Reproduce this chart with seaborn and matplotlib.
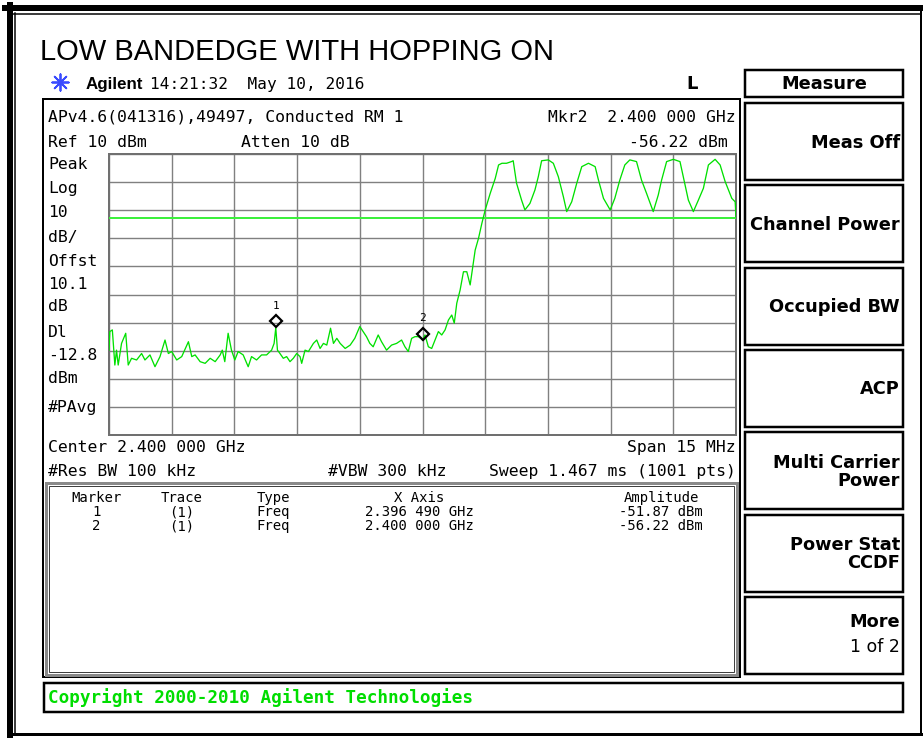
import numpy as np
import pandas as pd
import matplotlib
matplotlib.use("Agg")
import matplotlib.pyplot as plt
import matplotlib.transforms as mtransforms
from matplotlib.patches import Rectangle
import seaborn as sns

# trace, MHz / dBm
floor_freq = [2392.50, 2392.52, 2392.58, 2392.64, 2392.68, 2392.72, 2392.80, 2392.90, 2392.96, 2393.04,
              2393.16, 2393.28, 2393.36, 2393.48, 2393.60, 2393.72, 2393.84, 2393.92, 2394.00, 2394.12,
              2394.24, 2394.40, 2394.48, 2394.56, 2394.68, 2394.80, 2394.92, 2395.04, 2395.16, 2395.21,
              2395.27, 2395.35, 2395.43, 2395.51, 2395.59, 2395.71, 2395.83, 2395.91, 2396.03, 2396.15,
              2396.27, 2396.39, 2396.45, 2396.49, 2396.53, 2396.59, 2396.67, 2396.75, 2396.83, 2396.91,
              2396.99, 2397.07, 2397.11, 2397.19, 2397.27, 2397.39, 2397.47, 2397.55, 2397.63, 2397.71,
              2397.80, 2397.87, 2397.95, 2398.03, 2398.15, 2398.27, 2398.38, 2398.50, 2398.58, 2398.66,
              2398.74, 2398.82, 2398.94, 2399.02, 2399.14, 2399.26, 2399.38, 2399.50, 2399.58, 2399.66,
              2399.74, 2399.82]
floor_dbm = [-59.8, -53.2, -52.6, -65.1, -59.8, -65.1, -57.4, -53.8, -65.1, -62.7,
             -63.3, -61.0, -63.3, -61.5, -65.7, -62.1, -56.2, -61.0, -60.3, -63.3,
             -62.1, -56.8, -62.1, -61.5, -63.9, -64.5, -62.7, -63.9, -61.5, -59.8,
             -63.9, -53.8, -59.8, -63.3, -60.3, -61.5, -65.7, -62.1, -63.3, -61.5,
             -61.5, -59.8, -57.4, -51.87, -59.8, -61.0, -62.7, -62.1, -63.9, -62.7,
             -61.0, -62.1, -64.5, -59.8, -60.3, -57.4, -56.2, -59.2, -57.4, -58.0,
             -52.0, -57.4, -55.6, -57.4, -59.2, -58.0, -55.6, -51.4, -53.2, -55.0,
             -57.4, -58.6, -54.4, -56.8, -59.8, -58.0, -57.4, -56.2, -58.6, -60.3,
             -55.6, -55.0]

skirt_freq = [2399.90, 2399.96, 2400.00, 2400.06, 2400.14, 2400.22, 2400.30, 2400.38, 2400.46, 2400.54,
              2400.62, 2400.70, 2400.76, 2400.82, 2400.90, 2400.98, 2401.06, 2401.14, 2401.18, 2401.26,
              2401.34, 2401.42, 2401.50, 2401.62, 2401.74, 2401.82, 2401.90, 2402.01, 2402.13]
skirt_dbm = [-55.0, -55.6, -56.22, -54.4, -58.6, -59.2, -56.2, -53.2, -54.4, -52.6,
             -49.1, -47.3, -50.2, -43.1, -38.4, -31.9, -31.9, -36.6, -32.5, -24.2,
             -20.0, -14.7, -9.9, -4.0, 1.3, 6.1, 6.7, 6.7, 7.3]

hop_freq = [2402.17, 2402.25, 2402.37, 2402.45, 2402.57, 2402.69, 2402.77, 2402.85, 2403.01, 2403.13,
            2403.25, 2403.37, 2403.45, 2403.57, 2403.69, 2403.81, 2403.97, 2404.13, 2404.21, 2404.33,
            2404.49, 2404.60, 2404.72, 2404.84, 2404.96, 2405.12, 2405.24, 2405.36, 2405.52, 2405.64,
            2405.72, 2405.84, 2406.00, 2406.16, 2406.28, 2406.36, 2406.48, 2406.60, 2406.72, 2406.84,
            2407.00, 2407.12, 2407.24, 2407.40, 2407.48, 2407.50]
hop_dbm = [7.6, -0.4, -6.4, -9.9, -7.6, -2.8, 1.9, 7.6, 7.9, 6.7,
           1.9, -5.2, -10.5, -7.0, -0.4, 5.5, 6.7, 5.5, 0.7, -5.8,
           -9.9, -5.8, 0.7, 6.1, 7.9, 7.3, 0.7, -4.0, -10.5, -4.6,
           0.7, 7.3, 8.1, 7.3, -1.0, -6.4, -10.5, -6.4, -2.2, 6.1,
           8.1, 6.1, 0.2, -5.8, -7.0, -12.3]

center_mhz = 2400.0
span_mhz = 15.0
ref_level = 10.0
db_div = 10.0
display_line = -12.8

mkr_id = ["1", "2"]
mkr_freq = [2396.49, 2400.00]
mkr_amp = [-51.87, -56.22]
mkr_trace = ["(1)", "(1)"]
mkr_type = ["Freq", "Freq"]
mkr_x_txt = ["2.396 490 GHz", "2.400 000 GHz"]
mkr_amp_txt = ["-51.87 dBm", "-56.22 dBm"]

left_labels = ["Peak", "Log", "10", "dB/", "Offst", "10.1", "dB", "Dl", "-12.8", "dBm", "#PAvg"]
left_base = [169, 193, 217, 242, 266, 289, 311, 337, 360, 383, 412]
softkeys = [["Meas Off"], ["Channel Power"], ["Occupied BW"], ["ACP"],
            ["Multi Carrier", "Power"], ["Power Stat", "CCDF"], ["More"]]

df = pd.DataFrame({"freq": floor_freq + skirt_freq + hop_freq,
                   "level": floor_dbm + skirt_dbm + hop_dbm})

W, H = 923, 738
MONO = "DejaVu Sans Mono"
px = 0.72  # points per pixel at 100 dpi

fig = plt.figure(figsize=(W / 100, H / 100), dpi=100)
fig.patch.set_facecolor("white")

# overlay in screen pixels for frames and text
ov = fig.add_axes([0, 0, 1, 1])
ov.set_xlim(0, W)
ov.set_ylim(H, 0)
ov.axis("off")


def box(x0, y0, x1, y1, lw, ec="black"):
    ov.add_patch(Rectangle((x0, y0), x1 - x0, y1 - y0, fill=False, lw=lw * px, ec=ec))


# outer border
ov.plot([9.5, 9.5], [5, 735], color="black", lw=6 * px)
ov.plot([5, 921], [8, 8], color="black", lw=6 * px)
ov.plot([15, 15], [13, 733], color="black", lw=1.5 * px)
ov.plot([13, 921], [14, 14], color="black", lw=1.5 * px)
ov.plot([9, 921], [734, 734], color="black", lw=3 * px)
ov.plot([920.5, 920.5], [8, 735], color="black", lw=2 * px)

ov.text(40, 60, "LOW BANDEDGE WITH HOPPING ON", fontsize=21, family="Liberation Sans", va="baseline")

ov.scatter([60], [82], marker=(8, 2, 0), s=140, color="#3a4bff", lw=1.3)
ov.text(86, 89, "Agilent", fontsize=12.2, family="Liberation Sans", weight="bold", va="baseline")
ov.text(150, 89, "14:21:32  May 10, 2016", fontsize=11.6, family=MONO, va="baseline")
ov.text(692, 89, "L", fontsize=13, family="DejaVu Sans", weight="bold", va="baseline", ha="center")

# main screen frame
box(43, 99, 740, 677, 2)
ov.text(48, 122, "APv4.6(041316),49497, Conducted RM 1", fontsize=11.8, family=MONO, va="baseline")
ov.text(736, 122, "Mkr2  2.400 000 GHz", fontsize=11.8, family=MONO, va="baseline", ha="right")
ov.text(48, 147, "Ref 10 dBm", fontsize=11.8, family=MONO, va="baseline")
ov.text(241, 147, "Atten 10 dB", fontsize=11.8, family=MONO, va="baseline")
ov.text(728, 147, "-56.22 dBm", fontsize=11.8, family=MONO, va="baseline", ha="right")
for lab, yb in zip(left_labels, left_base):
    ov.text(48, yb, lab, fontsize=11.8, family=MONO, va="baseline")
ov.text(48, 452, "Center 2.400 000 GHz", fontsize=11.8, family=MONO, va="baseline")
ov.text(736, 452, "Span 15 MHz", fontsize=11.8, family=MONO, va="baseline", ha="right")
ov.text(48, 476, "#Res BW 100 kHz", fontsize=11.8, family=MONO, va="baseline")
ov.text(328, 476, "#VBW 300 kHz", fontsize=11.8, family=MONO, va="baseline")
ov.text(736, 476, "Sweep 1.467 ms (1001 pts)", fontsize=11.8, family=MONO, va="baseline", ha="right")

# marker table
box(46, 483, 737, 675, 3, ec="#8a8a8a")
box(49, 486, 734, 672, 1, ec="#404040")
cols = [96, 182, 273, 419, 661]
heads = ["Marker", "Trace", "Type", "X Axis", "Amplitude"]
for cx, hd in zip(cols, heads):
    ov.text(cx, 502, hd, fontsize=10, family=MONO, va="baseline", ha="center")
for i in range(len(mkr_id)):
    row = [mkr_id[i], mkr_trace[i], mkr_type[i], mkr_x_txt[i], mkr_amp_txt[i]]
    for cx, t in zip(cols, row):
        ov.text(cx, 516 + 14 * i, t, fontsize=10, family=MONO, va="baseline", ha="center")

# softkey column
box(745, 70, 903, 97, 2.5)
ov.text(824, 89, "Measure", fontsize=12.8, family="DejaVu Sans", weight="bold", va="baseline", ha="center")
for k, lines in enumerate(softkeys):
    top = 103 + 82.3 * k
    box(745, top, 903, top + 77, 2.5)
    mid = top + 38.5
    if len(lines) == 1 and lines[0] != "More":
        ov.text(900, mid + 6, lines[0], fontsize=12.8, family="DejaVu Sans", weight="bold",
                va="baseline", ha="right")
    elif lines[0] == "More":
        ov.text(900, mid - 8, "More", fontsize=12.8, family="DejaVu Sans", weight="bold",
                va="baseline", ha="right")
        ov.text(900, mid + 17, "1 of 2", fontsize=12.5, family="DejaVu Sans", va="baseline", ha="right")
    else:
        ov.text(900, mid - 3, lines[0], fontsize=12.8, family="DejaVu Sans", weight="bold",
                va="baseline", ha="right")
        ov.text(900, mid + 15, lines[1], fontsize=12.8, family="DejaVu Sans", weight="bold",
                va="baseline", ha="right")

# status bar
box(44, 683, 903, 712, 2.5)
ov.text(48, 703, "Copyright 2000-2010 Agilent Technologies", fontsize=12.7, family=MONO,
        weight="bold", color="#00dd00", va="baseline")

# spectrum graticule
ax = fig.add_axes([109 / W, 1 - 435 / H, 627 / W, 281 / H])
x_lo = center_mhz - span_mhz / 2
ax.set_xlim(x_lo, x_lo + span_mhz)
ax.set_ylim(ref_level - 10 * db_div, ref_level)
ax.set_xticks(np.linspace(x_lo, x_lo + span_mhz, 11))
ax.set_yticks(np.linspace(ref_level - 10 * db_div, ref_level, 11))
ax.grid(True, color="#808080", lw=1.4 * px)
ax.tick_params(length=0, labelbottom=False, labelleft=False)
for s in ax.spines.values():
    s.set_color("#707070")
    s.set_linewidth(2 * px)
ax.set_facecolor("white")

ax.axhline(display_line, color="#3cf03c", lw=2 * px, zorder=3)
sns.lineplot(data=df, x="freq", y="level", ax=ax, color="#00e000", lw=1.3 * px,
             estimator=None, sort=False, zorder=4)
ax.set_xlabel("")
ax.set_ylabel("")

lift = ax.transData + mtransforms.ScaledTranslation(0, 0.065, fig.dpi_scale_trans)
ax.plot(mkr_freq, mkr_amp, "D", mfc="none", mec="black", ms=6.5, mew=1.6, transform=lift, zorder=5)
for t, f, a in zip(mkr_id, mkr_freq, mkr_amp):
    ax.annotate(t, (f, a), xytext=(0, 22), textcoords="offset pixels", ha="center", va="center",
                fontsize=8, family=MONO, zorder=6)

fig.savefig("out.png", dpi=100)
